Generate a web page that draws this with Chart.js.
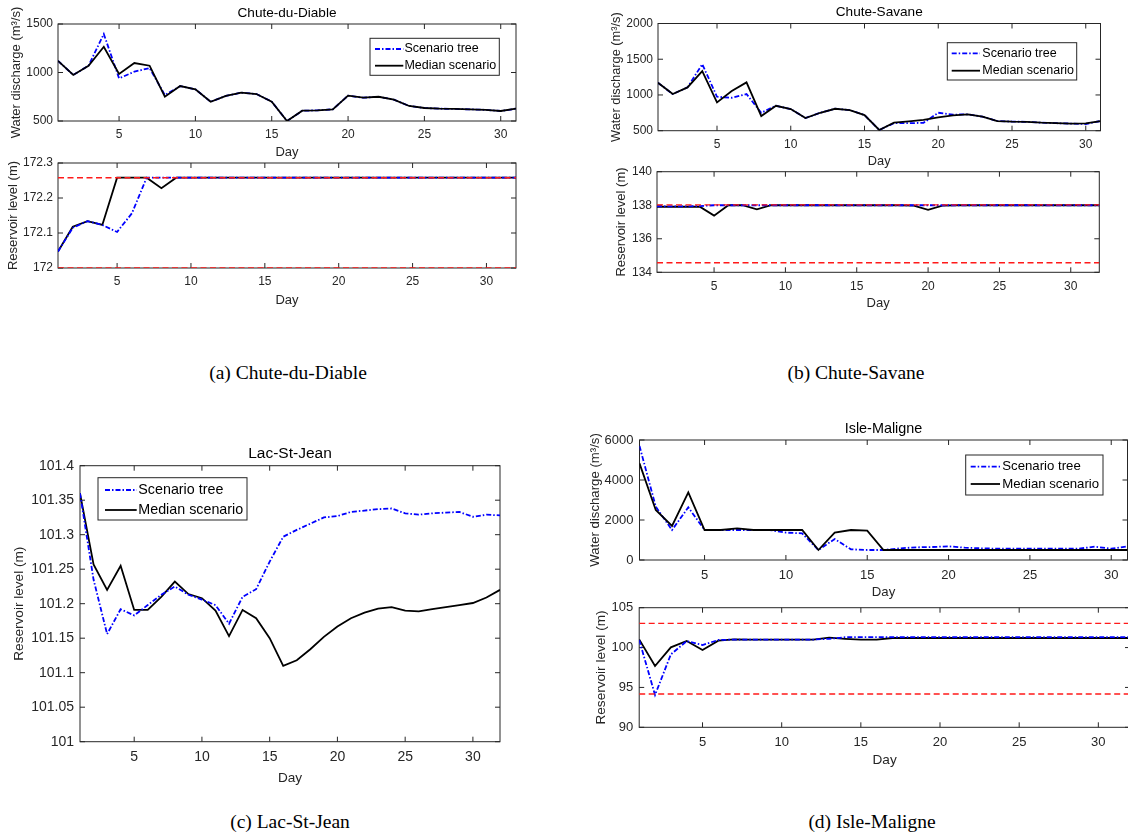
<!DOCTYPE html>
<html>
<head>
<meta charset="utf-8">
<script src="https://cdn.jsdelivr.net/npm/chart.js@4.4.0/dist/chart.umd.min.js"></script>
<style>
  html, body { margin: 0; padding: 0; background: #fff; overflow: hidden; }
  #wrap { position: relative; width: 1128px; height: 838px; overflow: hidden; }
  canvas { position: absolute; }
  .cap { position: absolute; font-family: "Liberation Serif", "Times New Roman", serif; font-size: 19.5px;
         color: #000; white-space: nowrap; transform: translate(-50%, -50%); }
</style>
</head>
<body>
<div id="wrap">
  <canvas id="a1"></canvas>
  <canvas id="a2"></canvas>
  <canvas id="b1"></canvas>
  <canvas id="b2"></canvas>
  <canvas id="c1"></canvas>
  <canvas id="d1"></canvas>
  <canvas id="d2"></canvas>
  <div class="cap" style="left:288px;top:373px">(a) Chute-du-Diable</div>
  <div class="cap" style="left:856px;top:373px">(b) Chute-Savane</div>
  <div class="cap" style="left:290px;top:822px">(c) Lac-St-Jean</div>
  <div class="cap" style="left:872px;top:822px">(d) Isle-Maligne</div>
</div>
<script>
// Days of the horizon
const days = [1, 2, 3, 4, 5, 6, 7, 8, 9, 10, 11, 12, 13, 14, 15, 16,
              17, 18, 19, 20, 21, 22, 23, 24, 25, 26, 27, 28, 29, 30, 31, 32];
const xTicks = [5, 10, 15, 20, 25, 30];

// (a) Chute-du-Diable
const cddFlowTree   = [1120, 975, 1070, 1397, 940, 1008, 1046, 768, 860, 827, 698, 758, 792, 778, 700, 500,
                       606, 610, 620, 761, 740, 750, 720, 655, 634, 627, 624, 620, 615, 603, 627];
const cddFlowMedian = [1120, 975, 1070, 1265, 985, 1098, 1070, 750, 860, 827, 698, 758, 792, 778, 700, 500,
                       606, 610, 620, 761, 740, 750, 720, 655, 634, 627, 624, 620, 615, 603, 627];
const cddFlowTicks  = [500, 1000, 1500];
const cddLevelTree   = [172.047, 172.115, 172.134, 172.123, 172.103, 172.156, 172.258, 172.258,
                        172.258, 172.258, 172.258, 172.258, 172.258, 172.258, 172.258, 172.258,
                        172.258, 172.258, 172.258, 172.258, 172.258, 172.258, 172.258, 172.258,
                        172.258, 172.258, 172.258, 172.258, 172.258, 172.258, 172.258, 172.258];
const cddLevelMedian = [172.047, 172.118, 172.134, 172.123, 172.258, 172.258, 172.258, 172.228,
                        172.258, 172.258, 172.258, 172.258, 172.258, 172.258, 172.258, 172.258,
                        172.258, 172.258, 172.258, 172.258, 172.258, 172.258, 172.258, 172.258,
                        172.258, 172.258, 172.258, 172.258, 172.258, 172.258, 172.258, 172.258];
const cddLevelMax = 172.258;
const cddLevelMin = 172.0;
const cddLevelTicks = [172, 172.1, 172.2, 172.3];

// (b) Chute-Savane
const csFlowTree   = [1170, 1013, 1106, 1431, 975, 961, 1013, 751, 849, 803, 677, 751, 807, 789, 719, 510,
                      605, 605, 610, 751, 725, 729, 696, 635, 627, 624, 612, 605, 600, 594, 635];
const csFlowMedian = [1170, 1013, 1106, 1334, 896, 1055, 1176, 705, 849, 803, 677, 751, 807, 789, 719, 510,
                      612, 631, 650, 687, 715, 729, 696, 635, 627, 624, 612, 605, 600, 603, 635];
const csFlowTicks  = [500, 1000, 1500, 2000];
const csLevelTree   = [137.93, 137.93, 137.93, 137.95, 138, 138, 138, 138, 138, 138, 138, 138, 138, 138, 138, 138,
                       138, 138, 138, 138, 138, 138, 138, 138, 138, 138, 138, 138, 138, 138, 138, 138];
const csLevelMedian = [137.91, 137.91, 137.91, 137.91, 137.38, 138, 138, 137.76, 138, 138, 138, 138, 138, 138, 138, 138,
                       138, 138, 137.98, 137.72, 137.98, 138, 138, 138, 138, 138, 138, 138, 138, 138, 138, 138];
const csLevelMax = 138.02;
const csLevelMin = 134.57;
const csLevelTicks = [134, 136, 138, 140];

// (c) Lac-St-Jean
const lsjLevelTree   = [101.36, 101.235, 101.156, 101.192, 101.183, 101.198, 101.213, 101.225,
                        101.213, 101.206, 101.198, 101.171, 101.21, 101.221, 101.261, 101.297,
                        101.307, 101.316, 101.325, 101.327, 101.333, 101.335, 101.337, 101.338,
                        101.331, 101.329, 101.331, 101.332, 101.333, 101.326, 101.329, 101.328];
const lsjLevelMedian = [101.36, 101.257, 101.22, 101.255, 101.191, 101.191, 101.21, 101.232,
                        101.214, 101.208, 101.19, 101.153, 101.191, 101.179, 101.15, 101.11,
                        101.118, 101.134, 101.152, 101.167, 101.179, 101.187, 101.193, 101.195,
                        101.19, 101.189, 101.192, 101.195, 101.198, 101.201, 101.209, 101.22];
const lsjLevelTicks = [101, 101.05, 101.1, 101.15, 101.2, 101.25, 101.3, 101.35, 101.4];

// (d) Isle-Maligne
const imFlowTree   = [5700, 2667, 1500, 2633, 1500, 1500, 1500, 1500, 1500, 1367, 1333, 500, 1050, 533, 500, 500,
                      583, 633, 650, 683, 617, 583, 567, 567, 567, 567, 567, 567, 667, 567, 683];
const imFlowMedian = [4833, 2500, 1700, 3383, 1500, 1500, 1580, 1500, 1500, 1500, 1500, 500, 1367, 1500, 1467, 500,
                      500, 500, 500, 500, 500, 500, 500, 500, 500, 500, 500, 500, 500, 500, 500];
const imFlowTicks  = [0, 2000, 4000, 6000];
const imLevelTree   = [100.95, 94.05, 99.15, 100.82, 100.32, 100.95, 101.0, 101.0, 101.0, 101.0, 101.0, 101.0,
                       101.1, 101.3, 101.3, 101.3, 101.3, 101.3, 101.3, 101.3, 101.3, 101.3, 101.3, 101.3,
                       101.3, 101.3, 101.3, 101.3, 101.3, 101.3, 101.3, 101.3];
const imLevelMedian = [101.03, 97.69, 100.03, 100.82, 99.69, 100.86, 101.03, 101.0, 101.0, 101.0, 101.0, 101.0,
                       101.24, 101.1, 101.0, 101.0, 101.2, 101.2, 101.2, 101.2, 101.2, 101.2, 101.2, 101.2,
                       101.2, 101.2, 101.2, 101.2, 101.2, 101.2, 101.2, 101.2];
const imLevelMax = 103.04;
const imLevelMin = 94.18;
const imLevelTicks = [90, 95, 100, 105];

const FONT = '"Liberation Sans", Arial, Helvetica, sans-serif';
const AXIS_COLOR = '#262626';
Chart.defaults.font.family = FONT;
Chart.defaults.color = AXIS_COLOR;

// turn a series into {x, y} points on the day axis
function pts(vals) {
  return vals.map((v, i) => ({ x: days[i], y: v }));
}

function treeSet(vals, order) {
  return { label: 'Scenario tree', data: pts(vals), borderColor: '#0000ff', borderWidth: 1.8,
           borderDash: [5, 2, 1.5, 2], pointRadius: 0, tension: 0, order: order };
}
function medianSet(vals, order) {
  return { label: 'Median scenario', data: pts(vals), borderColor: '#000000', borderWidth: 1.8,
           pointRadius: 0, tension: 0, order: order };
}
function limitSet(v, xmax) {
  return { label: '', data: [{ x: 1, y: v }, { x: xmax, y: v }], borderColor: '#ff1a1a', borderWidth: 1.4,
           borderDash: [6, 3.5], pointRadius: 0, order: 0 };
}

// MATLAB-style box with inward ticks on all four sides
const axesBox = {
  id: 'axesBox',
  beforeDatasetsDraw(chart) {
    const { ctx, chartArea: a, scales: { x, y } } = chart;
    ctx.save();
    ctx.strokeStyle = AXIS_COLOR;
    ctx.lineWidth = 1;
    ctx.beginPath();
    x.ticks.forEach(t => {
      const px = x.getPixelForValue(t.value);
      ctx.moveTo(px, a.bottom); ctx.lineTo(px, a.bottom - 5);
      ctx.moveTo(px, a.top); ctx.lineTo(px, a.top + 5);
    });
    y.ticks.forEach(t => {
      const py = y.getPixelForValue(t.value);
      ctx.moveTo(a.left, py); ctx.lineTo(a.left + 5, py);
      ctx.moveTo(a.right, py); ctx.lineTo(a.right - 5, py);
    });
    ctx.stroke();
    ctx.strokeRect(a.left, a.top, a.right - a.left, a.bottom - a.top);
    ctx.restore();
  }
};

// Title centred above the plot area
const panelTitle = {
  id: 'panelTitle',
  afterDraw(chart, args, opts) {
    if (!opts.text) return;
    const { ctx, chartArea: a } = chart;
    ctx.save();
    ctx.font = opts.size + 'px ' + FONT;
    ctx.fillStyle = '#000';
    ctx.textAlign = 'center';
    ctx.textBaseline = 'middle';
    ctx.fillText(opts.text, (a.left + a.right) / 2, a.top - opts.gap);
    ctx.restore();
  }
};

// Boxed legend inside the plot area
const boxLegend = {
  id: 'boxLegend',
  afterDraw(chart, args, opts) {
    if (!opts.width) return;
    const { ctx, chartArea: a } = chart;
    const bx = a.left + opts.left, by = a.top + opts.top;
    ctx.save();
    ctx.fillStyle = '#fff';
    ctx.fillRect(bx, by, opts.width, opts.height);
    ctx.strokeStyle = AXIS_COLOR;
    ctx.lineWidth = 1;
    ctx.strokeRect(bx, by, opts.width, opts.height);
    ctx.font = opts.size + 'px ' + FONT;
    ctx.textAlign = 'left';
    ctx.textBaseline = 'middle';
    const items = chart.data.datasets.filter(d => d.label);
    items.forEach((d, i) => {
      const yy = by + opts.rows[i];
      ctx.strokeStyle = d.borderColor;
      ctx.lineWidth = d.borderWidth;
      ctx.setLineDash(d.borderDash || []);
      ctx.beginPath();
      ctx.moveTo(bx + opts.line[0], yy);
      ctx.lineTo(bx + opts.line[1], yy);
      ctx.stroke();
      ctx.setLineDash([]);
      ctx.fillStyle = '#000';
      ctx.fillText(d.label, bx + opts.textX, yy);
    });
    ctx.restore();
  }
};

function fmt(v) {
  return String(Math.round(v * 1000) / 1000);
}

// Build one subplot; plot = [left, top, right, bottom] of the axes box in page pixels
function makeChart(id, s) {
  const [l, t, r, b] = s.plot;
  const lh = s.labelSize * 1.2;
  const wy = s.yTitleDist + lh / 2;
  const hx = s.xTitleDist + lh / 2;
  const cx = Math.floor(l - wy - 2);
  const cy = Math.floor(t - 26);
  const cw = Math.ceil(r + 26 - cx);
  const ch = Math.ceil(b + hx + 2 - cy);
  const pad = { left: l - wy - cx, top: t - cy, right: cw - (r - cx), bottom: ch - (b + hx - cy) };
  const canvas = document.getElementById(id);
  canvas.width = cw;
  canvas.height = ch;
  canvas.style.left = cx + 'px';
  canvas.style.top = cy + 'px';

  new Chart(canvas, {
    type: 'line',
    data: { datasets: s.datasets },
    plugins: [axesBox, panelTitle, boxLegend],
    options: {
      responsive: false,
      animation: false,
      events: [],
      layout: { padding: pad },
      plugins: {
        legend: { display: false },
        tooltip: { enabled: false },
        panelTitle: s.title || {},
        boxLegend: s.legend || {}
      },
      scales: {
        x: {
          type: 'linear', min: 1, max: s.xmax,
          afterBuildTicks: sc => { sc.ticks = xTicks.map(v => ({ value: v })); },
          afterFit: sc => { sc.height = hx; },
          grid: { display: false, drawTicks: false }, border: { display: false },
          ticks: { autoSkip: false, maxRotation: 0, padding: s.xTickDist - s.tickSize * 0.6,
                   font: { size: s.tickSize }, color: AXIS_COLOR, callback: fmt },
          title: { display: true, text: 'Day', padding: 0, font: { size: s.labelSize }, color: AXIS_COLOR }
        },
        y: {
          type: 'linear', min: s.ymin, max: s.ymax,
          afterBuildTicks: sc => { sc.ticks = s.yTicks.map(v => ({ value: v })); },
          afterFit: sc => { sc.width = wy; },
          grid: { display: false, drawTicks: false }, border: { display: false },
          ticks: { autoSkip: false, padding: s.yTickPad, font: { size: s.tickSize }, color: AXIS_COLOR, callback: fmt },
          title: { display: true, text: s.yTitle, padding: 0, font: { size: s.labelSize }, color: AXIS_COLOR }
        }
      }
    }
  });
}

const FLOW_TITLE = 'Water discharge (m³/s)';
const LEVEL_TITLE = 'Reservoir level (m)';

makeChart('a1', {
  plot: [58, 24, 516, 121], xmax: 31, ymin: 500, ymax: 1500, yTicks: cddFlowTicks,
  yTitle: FLOW_TITLE, tickSize: 12, labelSize: 13, yTitleDist: 42, xTitleDist: 31, xTickDist: 14, yTickPad: 5,
  title: { text: 'Chute-du-Diable', size: 13.6, gap: 10.7 },
  legend: { left: 312, top: 14.3, width: 129.3, height: 37, rows: [10.7, 27.4], line: [5, 33.3], textX: 34.4, size: 12.5 },
  datasets: [treeSet(cddFlowTree, 2), medianSet(cddFlowMedian, 1)]
});

makeChart('a2', {
  plot: [58, 163, 516, 268], xmax: 32, ymin: 172, ymax: 172.3, yTicks: cddLevelTicks,
  yTitle: LEVEL_TITLE, tickSize: 12, labelSize: 13, yTitleDist: 44.7, xTitleDist: 32, xTickDist: 13.7, yTickPad: 5,
  datasets: [treeSet(cddLevelTree, 1), medianSet(cddLevelMedian, 2),
             limitSet(cddLevelMax, 32), limitSet(cddLevelMin, 32)]
});

makeChart('b1', {
  plot: [658, 23.5, 1100.5, 130.7], xmax: 31, ymin: 500, ymax: 2000, yTicks: csFlowTicks,
  yTitle: FLOW_TITLE, tickSize: 12, labelSize: 12.8, yTitleDist: 42, xTitleDist: 31, xTickDist: 13.5, yTickPad: 5,
  title: { text: 'Chute-Savane', size: 13.6, gap: 10.8 },
  legend: { left: 289.3, top: 19.2, width: 129.4, height: 37.3, rows: [10.6, 28], line: [4.4, 32.7], textX: 35, size: 12.5 },
  datasets: [treeSet(csFlowTree, 2), medianSet(csFlowMedian, 1)]
});

makeChart('b2', {
  plot: [657, 171.7, 1099.3, 272.3], xmax: 32, ymin: 134, ymax: 140, yTicks: csLevelTicks,
  yTitle: LEVEL_TITLE, tickSize: 12, labelSize: 13, yTitleDist: 36, xTitleDist: 31, xTickDist: 14.4, yTickPad: 5,
  datasets: [treeSet(csLevelTree, 1), medianSet(csLevelMedian, 2),
             limitSet(csLevelMax, 32), limitSet(csLevelMin, 32)]
});

makeChart('c1', {
  plot: [80, 465.7, 500, 741.7], xmax: 32, ymin: 101, ymax: 101.4, yTicks: lsjLevelTicks,
  yTitle: LEVEL_TITLE, tickSize: 14, labelSize: 13.6, yTitleDist: 61, xTitleDist: 36.6, xTickDist: 15.6, yTickPad: 6,
  title: { text: 'Lac-St-Jean', size: 15.5, gap: 12.4 },
  legend: { left: 18, top: 12, width: 149, height: 42.3, rows: [12.3, 32.3], line: [7, 38.7], textX: 40.3, size: 14.3 },
  datasets: [treeSet(lsjLevelTree, 1), medianSet(lsjLevelMedian, 2)]
});

makeChart('d1', {
  plot: [639.5, 440, 1127.5, 560], xmax: 31, ymin: 0, ymax: 6000, yTicks: imFlowTicks,
  yTitle: FLOW_TITLE, tickSize: 13, labelSize: 13.2, yTitleDist: 44.5, xTitleDist: 32.7, xTickDist: 15.7, yTickPad: 6,
  title: { text: 'Isle-Maligne', size: 14.4, gap: 10.7 },
  legend: { left: 326.2, top: 15, width: 137.3, height: 40, rows: [11.7, 29], line: [5, 34.3], textX: 36.6, size: 13.2 },
  datasets: [treeSet(imFlowTree, 2), medianSet(imFlowMedian, 1)]
});

makeChart('d2', {
  plot: [639.2, 607.7, 1130, 727.3], xmax: 32, ymin: 90, ymax: 105, yTicks: imLevelTicks,
  yTitle: LEVEL_TITLE, tickSize: 13, labelSize: 13.6, yTitleDist: 37.5, xTitleDist: 32.7, xTickDist: 15.4, yTickPad: 6,
  datasets: [treeSet(imLevelTree, 1), medianSet(imLevelMedian, 2),
             limitSet(imLevelMax, 32), limitSet(imLevelMin, 32)]
});
</script>
</body>
</html>
